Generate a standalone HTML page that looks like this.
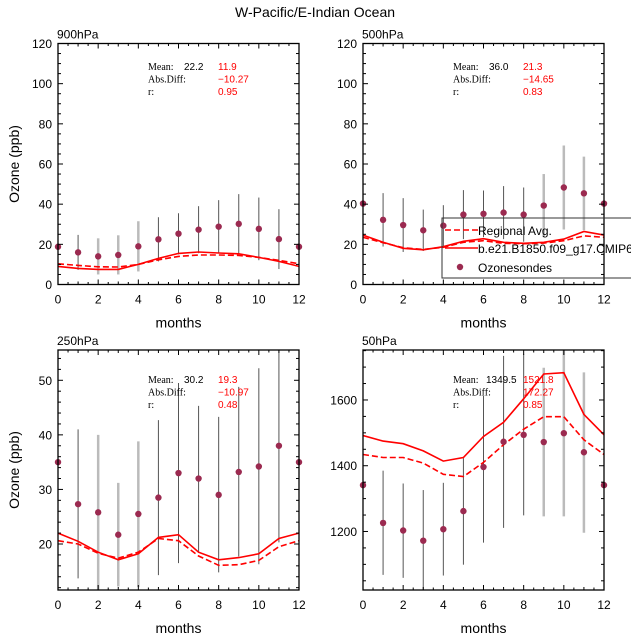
<!DOCTYPE html>
<html><head><meta charset="utf-8">
<style>
html,body{margin:0;padding:0;background:#fff;}
svg{display:block;font-family:"Liberation Sans",sans-serif;}
</style></head>
<body>
<svg id="c" width="631" height="638" viewBox="0 0 631 638" xmlns="http://www.w3.org/2000/svg">
<text x="315" y="17" text-anchor="middle" font-size="14">W-Pacific/E-Indian Ocean</text>
</svg>
<script>
const months = [0,1,2,3,4,5,6,7,8,9,10,11,12];
const p900Obs = [18.8,16,14,14.7,19,22.5,25.3,27.3,28.8,30.2,27.7,22.6,18.8];
const p900Up = [null,24.7,23,24.5,31.5,33.5,35.5,39,42,45,43.3,37.5,null];
const p900Lo = [null,7.3,5,5,6.5,11.5,15,15.6,15.6,15.4,12.1,7.7,null];
const p900Model = [9,8,7.5,7.5,10,13,15.5,16.2,15.7,15.3,13.5,11.5,9];
const p900Reg = [10.3,9.5,8.8,8.7,10,12.3,14,14.7,14.7,14.5,13.5,12,10.3];
const p900Light = [2,3,4];
const p500Obs = [40.3,32.2,29.6,27,29.3,34.8,35.2,35.8,34.8,39.3,48.3,45.4,40.3];
const p500Up = [null,45.5,43,37.3,39.5,47,46.8,49,48.3,55,69.2,63.7,null];
const p500Lo = [null,18.9,16.2,16.7,19.1,22.6,23.6,22.6,21.3,23.6,27.4,27.1,null];
const p500Model = [24.6,21,18,17.3,18.8,21.5,22.8,21,20.5,21,22.6,26.4,24.6];
const p500Reg = [23.5,20.8,18.3,17.5,18.5,21,21.8,20.5,20.3,20.6,21.8,24.2,23.5];
const p500Light = [9,10,11];
const p250Obs = [35,27.3,25.8,21.7,25.5,28.5,33,32,29,33.2,34.2,38,35];
const p250Up = [null,41,40,31.2,38.8,42.7,49.5,45.3,43.3,48.8,52.2,56,null];
const p250Lo = [null,13.7,11.5,12.2,12.1,14.3,16.5,18.5,14.8,17.7,16.3,20.3,null];
const p250Model = [22,20.5,18.5,17.1,18.2,21.2,21.7,18.5,17.1,17.5,18.2,21,22];
const p250Reg = [20.6,20,18.3,17.4,18.5,21,20.6,17.8,16.1,16.2,17,19.5,20.6];
const p250Light = [2,3,4];
const p50Obs = [1341,1226,1203,1172,1207,1262,1396,1473,1494,1472,1499,1441,1341];
const p50Up = [null,1385,1346,1326,1348,1423,1612,1734,1739,1698,1751,1684,null];
const p50Lo = [null,1068,1059,1020,1066,1099,1166,1211,1249,1246,1246,1196,null];
const p50Model = [1492,1475,1467,1445,1414,1425,1489,1532,1604,1679,1683,1556,1494];
const p50Reg = [1434,1425,1425,1408,1374,1367,1410,1464,1511,1549,1549,1479,1434];
const p50Light = [9,10,11];

const NS="http://www.w3.org/2000/svg";
const svg=document.getElementById('c');
function el(tag,attrs,parent){const e=document.createElementNS(NS,tag);for(const k in attrs)e.setAttribute(k,attrs[k]);(parent||svg).appendChild(e);return e;}

const panels=[
 {key:'900',label:'900hPa',x0:58,x1:299,y0:43.5,y1:284.5,ymin:0,ymax:120,maj:20,min:5,obs:p900Obs,up:p900Up,lo:p900Lo,mod:p900Model,reg:p900Reg,light:p900Light,ytitle:true,stats:['22.2','11.9','\u221210.27','0.95'],sx:148,sy:70,legend:false},
 {key:'500',label:'500hPa',x0:363,x1:604,y0:43.5,y1:284.5,ymin:0,ymax:120,maj:20,min:5,obs:p500Obs,up:p500Up,lo:p500Lo,mod:p500Model,reg:p500Reg,light:p500Light,ytitle:false,stats:['36.0','21.3','\u221214.65','0.83'],sx:453,sy:70,legend:true},
 {key:'250',label:'250hPa',x0:58,x1:299,y0:350,y1:590,ymin:11.57,ymax:55.55,maj:10,min:2,majStart:20,obs:p250Obs,up:p250Up,lo:p250Lo,mod:p250Model,reg:p250Reg,light:p250Light,ytitle:true,stats:['30.2','19.3','\u221210.97','0.48'],sx:148,sy:383,legend:false},
 {key:'50',label:'50hPa',x0:363,x1:604,y0:350,y1:590,ymin:1022,ymax:1752,maj:200,min:50,majStart:1200,obs:p50Obs,up:p50Up,lo:p50Lo,mod:p50Model,reg:p50Reg,light:p50Light,ytitle:false,stats:['1349.5','1521.8','172.27','0.85'],sx:453,sy:383,legend:false}
];

panels.forEach(p=>{
 const g=el('g',{});
 
 
 const X=m=>p.x0+(m-0)/12*(p.x1-p.x0);
 const Y=v=>p.y1-(v-p.ymin)/(p.ymax-p.ymin)*(p.y1-p.y0);
 const clip=el('clipPath',{id:'clip'+p.key},g);
 el('rect',{x:p.x0,y:p.y0,width:p.x1-p.x0,height:p.y1-p.y0},clip);
 const plot=el('g',{'clip-path':'url(#clip'+p.key+')'},g);
 // error bars
 months.forEach((m,i)=>{
  if(p.up[i]==null)return;
  const light=p.light.includes(i);
  const b=el('line',{x1:X(m),x2:X(m),y1:Y(p.up[i]),y2:Y(p.lo[i]),stroke:light?'#bbb':'#555','stroke-width':light?2.5:1},plot);
  
  
 });
 const pts=a=>months.map((m,i)=>X(m).toFixed(1)+','+Y(a[i]).toFixed(1)).join(' ');
 const reg=el('polyline',{points:pts(p.reg),fill:'none',stroke:'#f00','stroke-width':1.6,'stroke-dasharray':'6,3'},plot);
 
 
 const mod=el('polyline',{points:pts(p.mod),fill:'none',stroke:'#f00','stroke-width':1.6},plot);
 
 
 months.forEach((m,i)=>{
  const d=el('circle',{cx:X(m),cy:Y(p.obs[i]),r:3.2,fill:'#9b2a50'},g);
  
  
 });
 // frame
 const fr=el('rect',{x:p.x0,y:p.y0,width:p.x1-p.x0,height:p.y1-p.y0,fill:'none',stroke:'#000','stroke-width':1.3},g);
 
 
 // x ticks
 for(let m=0;m<=12;m+=0.5){
  const major=(m%2===0);const len=major?5:(m%1===0?3:2.5);
  el('line',{x1:X(m),x2:X(m),y1:p.y1,y2:p.y1-len,stroke:'#000','stroke-width':1},g);
  el('line',{x1:X(m),x2:X(m),y1:p.y0,y2:p.y0+len,stroke:'#000','stroke-width':1},g);
  if(major){const t=el('text',{x:X(m),y:p.y1+19,'text-anchor':'middle','font-size':12},g);t.textContent=m;
   }
 }
 // y ticks
 const start=Math.ceil(p.ymin/p.min)*p.min;
 for(let v=start;v<=p.ymax+1e-6;v+=p.min){
  const major=Math.abs(((v-(p.majStart||0))/p.maj)-Math.round((v-(p.majStart||0))/p.maj))<1e-6;
  const len=major?5:3;
  el('line',{x1:p.x0,x2:p.x0+len,y1:Y(v),y2:Y(v),stroke:'#000','stroke-width':1},g);
  el('line',{x1:p.x1,x2:p.x1-len,y1:Y(v),y2:Y(v),stroke:'#000','stroke-width':1},g);
  if(major){const t=el('text',{x:p.x0-6,y:Y(v)+4.5,'text-anchor':'end','font-size':12},g);t.textContent=Math.round(v);
   }
 }
 const lab=el('text',{x:p.x0-1,y:p.y0-5,'font-size':12},g);lab.textContent=p.label;
 
 const xt=el('text',{x:(p.x0+p.x1)/2,y:p.y1+43,'text-anchor':'middle','font-size':14},g);xt.textContent='months';
 
 if(p.ytitle){const cy=(p.y0+p.y1)/2;const yt=el('text',{x:19,y:cy,'text-anchor':'middle','font-size':14,transform:'rotate(-90 19 '+cy+')'},g);yt.textContent='Ozone (ppb)';
  }
 // stats
 const st=el('g',{'font-family':'"Liberation Serif",serif','font-size':10},g);
 
 const rows=[['Mean:',p.stats[0],p.stats[1]],['Abs.Diff:','',p.stats[2]],['r:','',p.stats[3]]];
 rows.forEach((r,i)=>{const y=p.sy+i*12.5;
  el('text',{x:p.sx,y:y},st).textContent=r[0];
  if(r[1])el('text',{x:p.sx+(r[1].length>4?33:36),y:y,'font-family':'"Liberation Sans",sans-serif'},st).textContent=r[1];
  el('text',{x:p.sx+70,y:y,fill:'#f00','font-family':'"Liberation Sans",sans-serif'},st).textContent=r[2];
 });
 if(p.legend){
  const lg=el('g',{},svg);
  
  el('rect',{x:442,y:218,width:200,height:60,fill:'none',stroke:'#333','stroke-width':1},lg);
  el('line',{x1:445,x2:478,y1:230,y2:230,stroke:'#f00','stroke-width':1.6,'stroke-dasharray':'6,3'},lg);
  el('line',{x1:445,x2:478,y1:248,y2:248,stroke:'#f00','stroke-width':1.6},lg);
  el('circle',{cx:460,cy:267,r:3.2,fill:'#9b2a50'},lg);
  const t1=el('text',{x:478,y:235,'font-size':12},lg);t1.textContent='Regional Avg.';
  
  const t2=el('text',{x:478,y:253,'font-size':12},lg);t2.textContent='b.e21.B1850.f09_g17.CMIP6-piControl.001';
  
  const t3=el('text',{x:478,y:272,'font-size':12},lg);t3.textContent='Ozonesondes';
  
 }
});
</script>
</body></html>
